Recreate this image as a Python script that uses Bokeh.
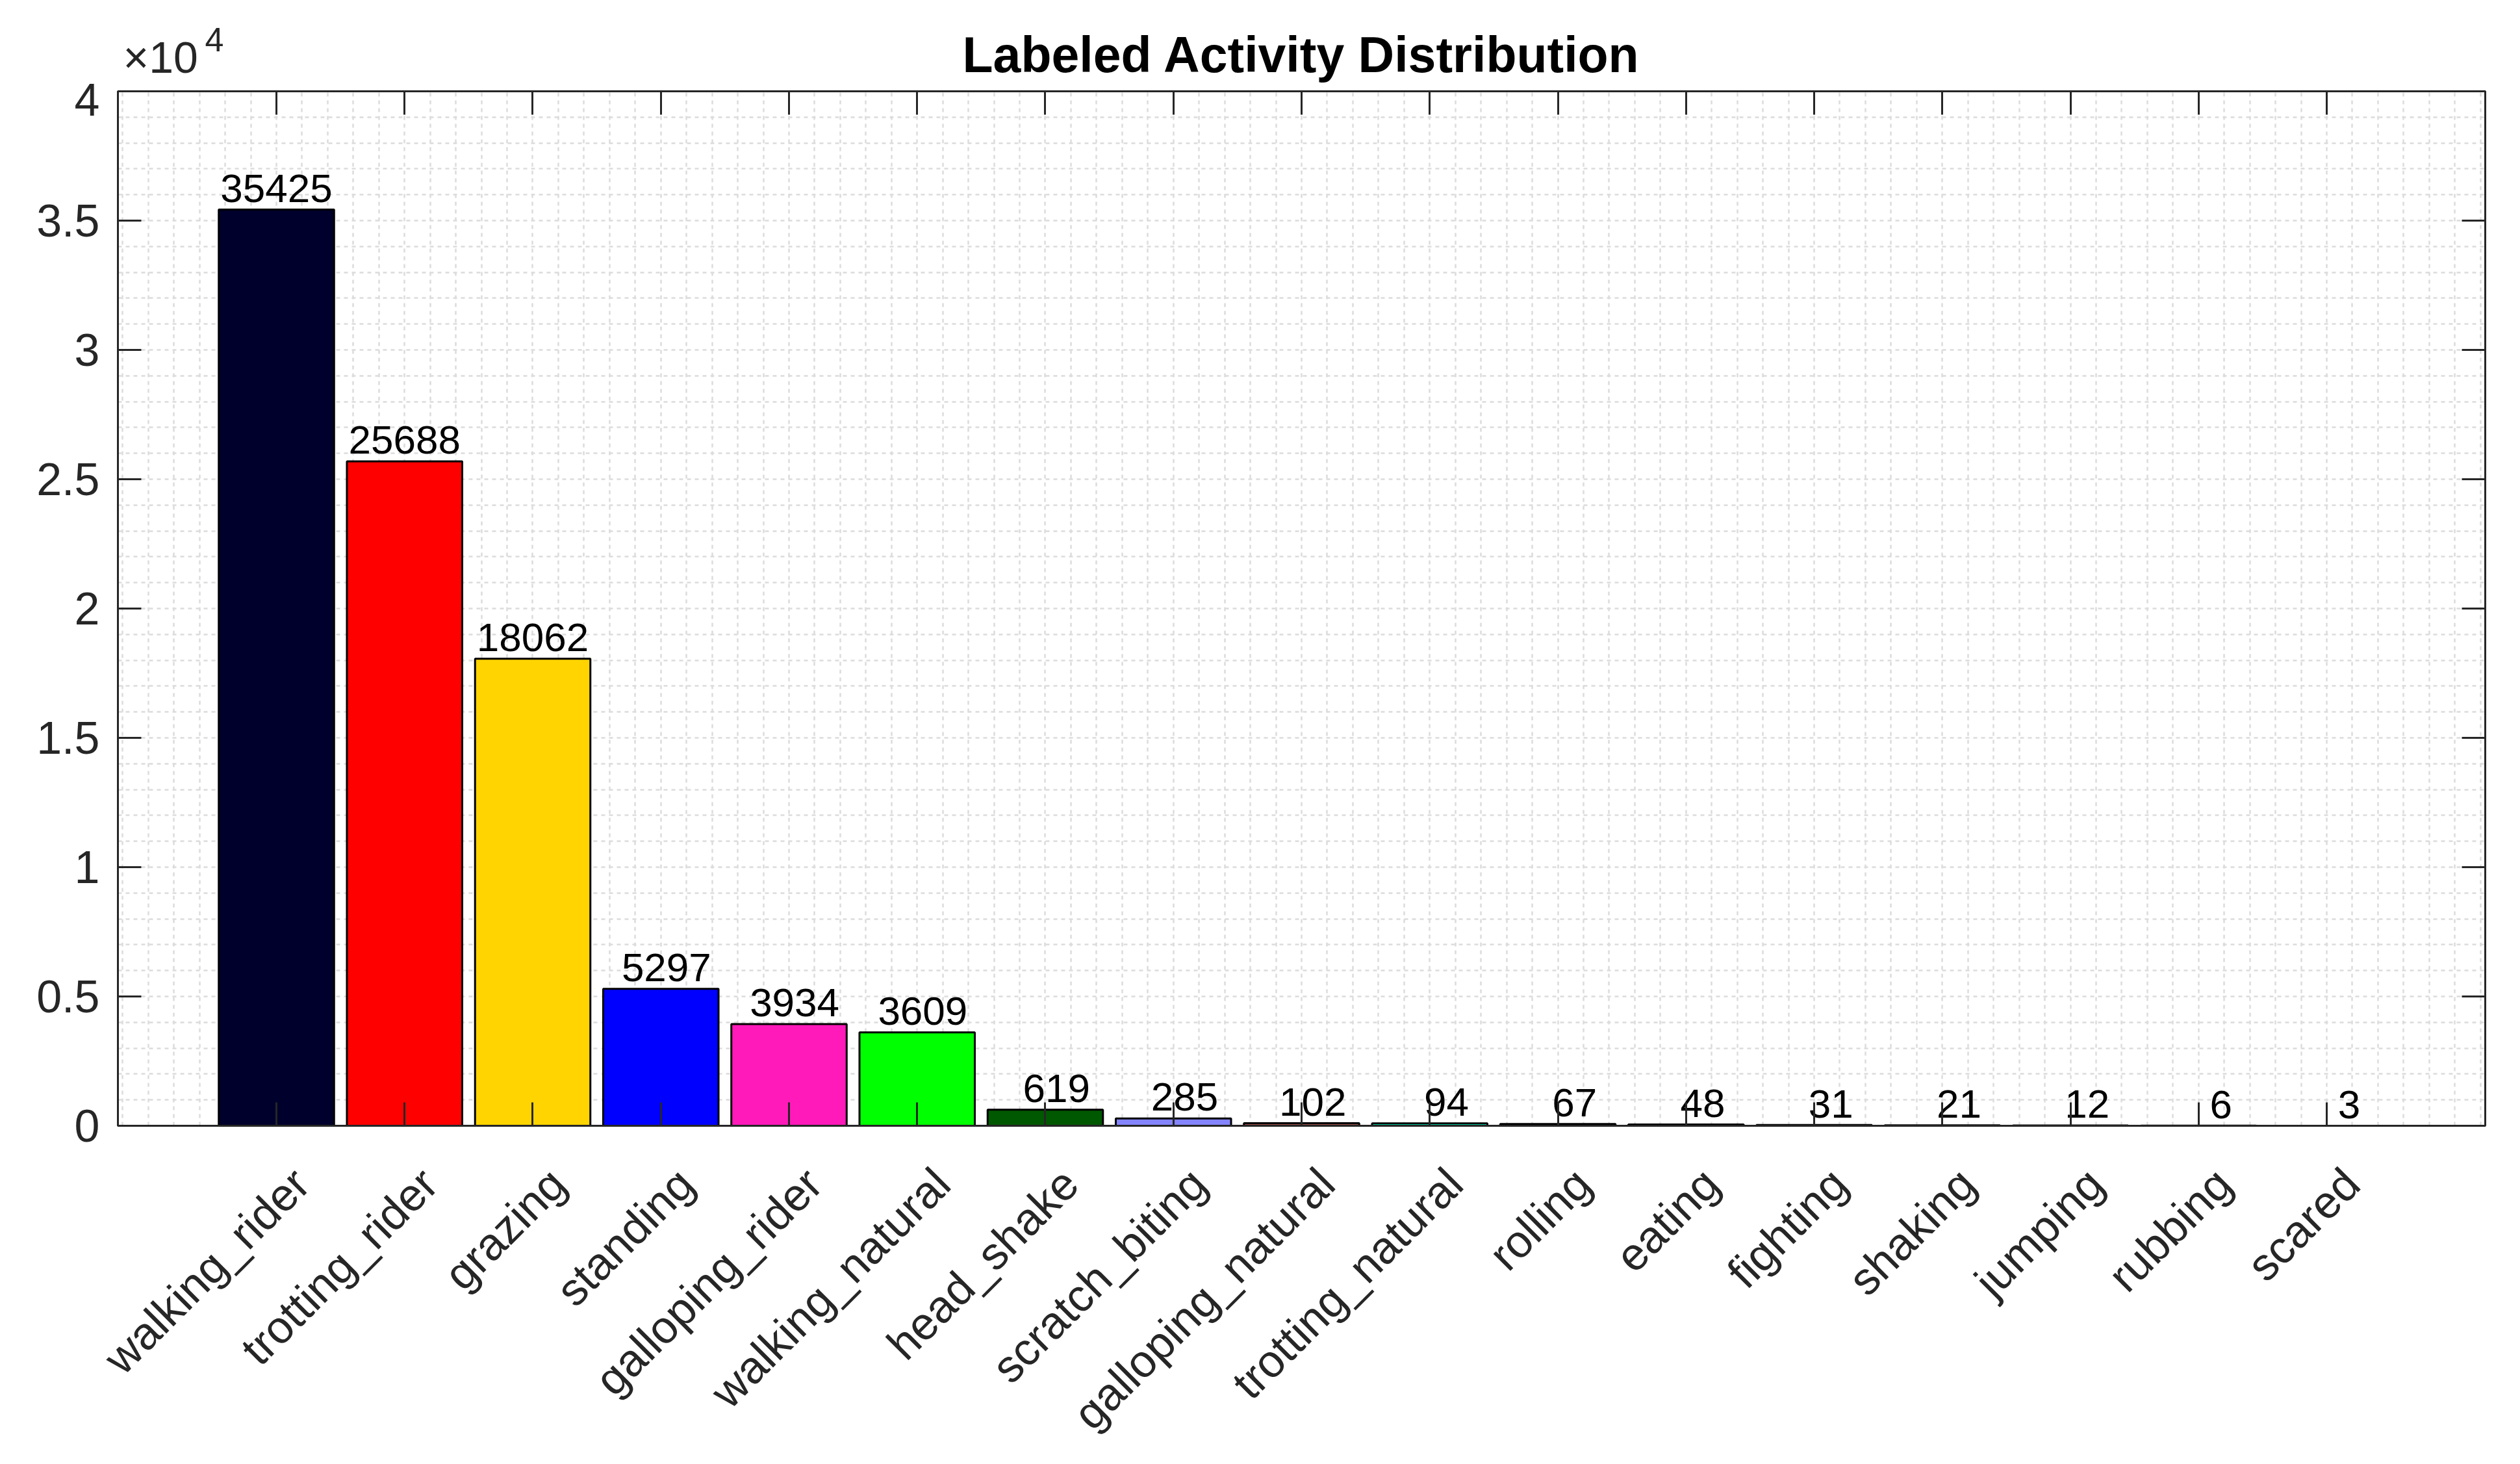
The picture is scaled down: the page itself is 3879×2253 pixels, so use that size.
import math
from bokeh.plotting import figure
from bokeh.layouts import column
from bokeh.models import ColumnDataSource, FixedTicker, LinearAxis, Range1d
from bokeh.core.properties import value
from bokeh.embed import file_html
from bokeh.resources import INLINE

# ---- data ----
categories = ["walking_rider", "trotting_rider", "grazing", "standing", "galloping_rider",
              "walking_natural", "head_shake", "scratch_biting", "galloping_natural",
              "trotting_natural", "rolling", "eating", "fighting", "shaking", "jumping",
              "rubbing", "scared"]
counts = [35425, 25688, 18062, 5297, 3934, 3609, 619, 285, 102, 94, 67, 48, 31, 21, 12, 6, 3]
bar_colors = ["#00002C", "#FF0000", "#FFD400", "#0000FF", "#FF1AB9", "#00FF00", "#005800",
              "#8484FF", "#9E4F46", "#00FFC1", "#008496", "#00007B", "#95D34F", "#F69EDB",
              "#D311FF", "#7B1A6A", "#F61160"]
y_tick_values = [0, 5000, 10000, 15000, 20000, 25000, 30000, 35000, 40000]
y_tick_labels = ["0", "0.5", "1", "1.5", "2", "2.5", "3", "3.5", "4"]
title_text = "Labeled Activity Distribution"
exp_base = "\u00d710"
exp_power = "4"

FONT = "Liberation Sans"
TICK_PX = 70
VAL_PX = 62
TITLE_PX = 77
EXP_PX = 68
SUP_PX = 52
AXIS_COLOR = "#262626"
BASE_FIX = 0.27        # empirical: bokeh's alphabetic baseline sits ~0.27em low

# ---- layout constants (pixels, page coords incl. 8px margin) ----
FRAME_W, FRAME_H = 3644, 1592
LEFT, RIGHT = 181, 38
TOTAL_W = LEFT + FRAME_W + RIGHT
HEADER_H = 128
MAIN_TOP, MAIN_BOTTOM = 12, 44
AX_PANEL = 1
FRAME_TOP = 8 + HEADER_H + MAIN_TOP + AX_PANEL
FRAME_BOTTOM = FRAME_TOP + FRAME_H
FOOTER_TOP = FRAME_BOTTOM + AX_PANEL + MAIN_BOTTOM
FOOTER_H = 2245 - FOOTER_TOP
YMAX = 40000
PAD = 1.237

n = len(categories)
xs = list(range(n))
x0, x1 = -PAD, n - 1 + PAD
u = (x1 - x0) / FRAME_W            # data units per pixel (x)
v = YMAX / FRAME_H                 # data units per pixel (y)
wide_range = (x0 - LEFT * u, x1 + RIGHT * u)

labels = [str(c) for c in counts]
field = max(len(s) for s in labels)
DIGIT_EM, SPACE_EM = 0.556, 0.278
# MATLAB num2str pads to a common width; the padded string is centred on the bar
xoffs = [((field - len(s)) * SPACE_EM + len(s) * DIGIT_EM) / 2 * VAL_PX for s in labels]
label_y = [c + (16 + BASE_FIX * VAL_PX) * v for c in counts]

src = ColumnDataSource(dict(x=xs, top=counts, color=bar_colors, label=labels, xoff=xoffs,
                            ly=label_y))

# ---------------- main chart ----------------
p = figure(frame_width=FRAME_W, frame_height=FRAME_H,
           x_range=Range1d(x0, x1), y_range=Range1d(0, YMAX),
           output_backend="svg", toolbar_location=None,
           min_border_left=LEFT, min_border_top=MAIN_TOP, min_border_right=RIGHT,
           min_border_bottom=MAIN_BOTTOM,
           background_fill_color="white", border_fill_color="white")
p.outline_line_color = AXIS_COLOR
p.outline_line_width = 3

p.xgrid.ticker = FixedTicker(ticks=[k * 0.2 for k in range(-6, 5 * n + 2)])
p.ygrid.ticker = FixedTicker(ticks=list(range(0, YMAX + 1, 1000)))
for g in (p.xgrid, p.ygrid):
    g.grid_line_color = "#dcdcdc"
    g.grid_line_dash = "6 6"
    g.grid_line_width = 2.5

p.vbar(x="x", top="top", width=0.9, bottom=0, fill_color="color", line_color="black",
       line_width=3, source=src)
p.text(x="x", y="ly", text="label", x_offset="xoff", text_align="right",
       text_baseline="alphabetic", text_font=value(FONT), text_font_size=f"{VAL_PX}px",
       text_color="black", source=src)

def style_axis(ax, show_labels=True):
    ax.axis_line_color = AXIS_COLOR
    ax.axis_line_width = 3
    ax.major_tick_in = 36
    ax.major_tick_out = 0
    ax.major_tick_line_color = AXIS_COLOR
    ax.major_tick_line_width = 3
    ax.minor_tick_line_color = None
    ax.major_label_text_font = FONT
    if show_labels:
        ax.major_label_text_color = AXIS_COLOR
        ax.major_label_text_font_size = f"{TICK_PX}px"
    else:
        ax.major_label_text_color = None
        ax.major_label_text_font_size = "1px"
        ax.major_label_standoff = 0

xax = p.xaxis[0]
xax.ticker = FixedTicker(ticks=xs)
style_axis(xax, show_labels=False)

yax = p.yaxis[0]
yax.ticker = FixedTicker(ticks=y_tick_values)
yax.major_label_overrides = {val: t for val, t in zip(y_tick_values, y_tick_labels)}
yax.major_label_standoff = 28
style_axis(yax)

top_ax = LinearAxis(ticker=FixedTicker(ticks=xs))
style_axis(top_ax, show_labels=False)
p.add_layout(top_ax, "above")

right_ax = LinearAxis(ticker=FixedTicker(ticks=y_tick_values))
style_axis(right_ax, show_labels=False)
p.add_layout(right_ax, "right")

# ---------------- header (title, exponent) ----------------
def blank_fig(h):
    f = figure(frame_width=TOTAL_W, frame_height=h, x_range=Range1d(*wide_range),
               y_range=Range1d(0, h), output_backend="svg", toolbar_location=None,
               x_axis_location=None, y_axis_location=None, min_border=0,
               background_fill_color="white", border_fill_color="white")
    f.outline_line_color = None
    f.xgrid.visible = False
    f.ygrid.visible = False
    return f

header = blank_fig(HEADER_H)
HEADER_BOTTOM = 8 + HEADER_H
def hy(page_y, size):
    return HEADER_BOTTOM - (page_y - BASE_FIX * size)

header.text(x=[(n - 1) / 2], y=[hy(112, TITLE_PX)], text=[title_text], text_align="center",
            text_baseline="alphabetic", text_font=value(FONT), text_font_style="bold",
            text_font_size=f"{TITLE_PX}px", text_color="black")
header.text(x=[x0], y=[hy(114, EXP_PX)], x_offset=8, text=[exp_base], text_align="left",
            text_baseline="alphabetic", text_font=value(FONT), text_font_size=f"{EXP_PX}px",
            text_color=AXIS_COLOR)
header.text(x=[x0], y=[hy(83, SUP_PX)], x_offset=134, text=[exp_power], text_align="left",
            text_baseline="alphabetic", text_font=value(FONT), text_font_size=f"{SUP_PX}px",
            text_color=AXIS_COLOR)

# ---------------- footer (rotated category labels) ----------------
footer = blank_fig(FOOTER_H)
# baseline end of each label sits right/below its tick; bokeh drops the rotated
# baseline by BASE_FIX em along the text normal, so pre-compensate
shift = BASE_FIX * TICK_PX * math.sqrt(0.5)
lab_dx = 52 - shift
lab_dy = 92 - shift
foot_x = [i + lab_dx * u for i in xs]
foot_y = [FOOTER_H - (FRAME_BOTTOM + lab_dy - FOOTER_TOP)] * n
footer.text(x=foot_x, y=foot_y, text=categories, angle=math.pi / 4,
            text_align="right", text_baseline="alphabetic", text_font=value(FONT),
            text_font_size=f"{TICK_PX}px", text_color=AXIS_COLOR)

for f in (header, p, footer):
    try:
        f.frame_align = False
    except Exception:
        pass

layout = column(header, p, footer, spacing=0)
open("out.html", "w").write(file_html(layout, INLINE))
